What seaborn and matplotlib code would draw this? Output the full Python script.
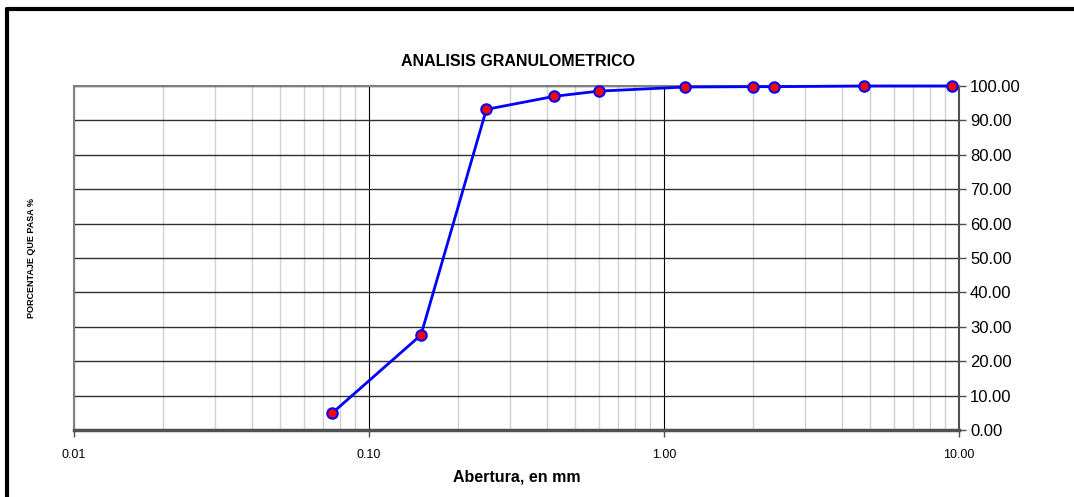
import matplotlib
matplotlib.use("Agg")
import matplotlib.pyplot as plt
from matplotlib.lines import Line2D
from matplotlib.ticker import FixedLocator, FuncFormatter, LogLocator, NullFormatter
import seaborn as sns
import pandas as pd

# Sieve openings (mm) and cumulative percent passing
abertura_mm = [0.075, 0.15, 0.25, 0.425, 0.6, 1.18, 2.0, 2.36, 4.75, 9.5]
pct_pasa = [4.9, 27.6, 93.2, 97.0, 98.5, 99.7, 99.8, 99.8, 100.0, 100.0]

x_ticks = [0.01, 0.1, 1.0, 10.0]
y_ticks = [0, 10, 20, 30, 40, 50, 60, 70, 80, 90, 100]

sns.set_theme(style="white")
plt.rcParams["font.family"] = ["Liberation Sans", "DejaVu Sans"]
plt.rcParams["text.color"] = "black"
plt.rcParams["axes.labelcolor"] = "black"
plt.rcParams["xtick.color"] = "black"
plt.rcParams["ytick.color"] = "black"

df = pd.DataFrame({"abertura": abertura_mm, "pasa": pct_pasa})

fig = plt.figure(figsize=(10.74, 4.97), dpi=100)
ax = fig.add_axes([0.0689, 0.1348, 0.8240, 0.6922])

sns.lineplot(data=df, x="abertura", y="pasa", ax=ax, color="#0000ff",
             linewidth=2, marker="o", markersize=7.5,
             markerfacecolor="#ff0000", markeredgecolor="#0000ff",
             markeredgewidth=1.5, sort=False, zorder=5)
for ln in ax.get_lines():
    ln.set_clip_on(False)

ax.set_xscale("log")
ax.set_xlim(0.01, 10)
ax.set_ylim(0, 100)

# Grid: light minor verticals, dark majors
ax.xaxis.set_major_locator(FixedLocator(x_ticks))
ax.xaxis.set_minor_locator(LogLocator(base=10, subs=range(2, 10)))
ax.xaxis.set_minor_formatter(NullFormatter())
ax.xaxis.set_major_formatter(FuncFormatter(lambda v, p: f"{v:.2f}"))
ax.grid(which="minor", axis="x", color="#d0d0d0", linewidth=1)
ax.grid(which="major", axis="x", color="#000000", linewidth=0.8)
ax.yaxis.set_major_locator(FixedLocator(y_ticks))
ax.grid(which="major", axis="y", color="#303030", linewidth=1)
ax.set_axisbelow(True)

ax.yaxis.tick_right()
ax.yaxis.set_major_formatter(FuncFormatter(lambda v, p: f"{v:.2f}"))
ax.tick_params(axis="y", which="major", direction="out", length=5, width=1,
               color="#505050", labelcolor="black", labelsize=12, pad=3,
               right=True, left=False)
ax.tick_params(axis="x", which="major", direction="out", length=5, width=1,
               color="#505050", labelcolor="black", labelsize=9, pad=9,
               bottom=True)
ax.tick_params(axis="x", which="minor", length=0)

for side in ["left", "top"]:
    ax.spines[side].set_color("#808080")
    ax.spines[side].set_linewidth(1.5)
ax.spines["right"].set_color("#505050")
ax.spines["right"].set_linewidth(1.5)
ax.spines["bottom"].set_color("#505050")
ax.spines["bottom"].set_linewidth(2.5)

ax.set_xlabel("Abertura, en mm", fontsize=11.5, fontweight="bold",
              labelpad=6, color="black")
ax.set_ylabel("")
fig.text(0.029, 0.48, "PORCENTAJE QUE PASA %", rotation=90, fontsize=6.5,
         fontweight="bold", ha="center", va="center", color="black")
fig.text(0.482, 0.876, "ANALISIS GRANULOMETRICO", fontsize=11.5,
         fontweight="bold", ha="center", va="center", color="black")

# Outer frame (top and left edges)
fig.add_artist(Line2D([0.0065, 1.0], [0.982, 0.982], transform=fig.transFigure,
                      color="black", linewidth=3))
fig.add_artist(Line2D([0.0065, 0.0065], [0.0, 0.982], transform=fig.transFigure,
                      color="black", linewidth=3))

fig.savefig("out.png", dpi=100, facecolor="white")
